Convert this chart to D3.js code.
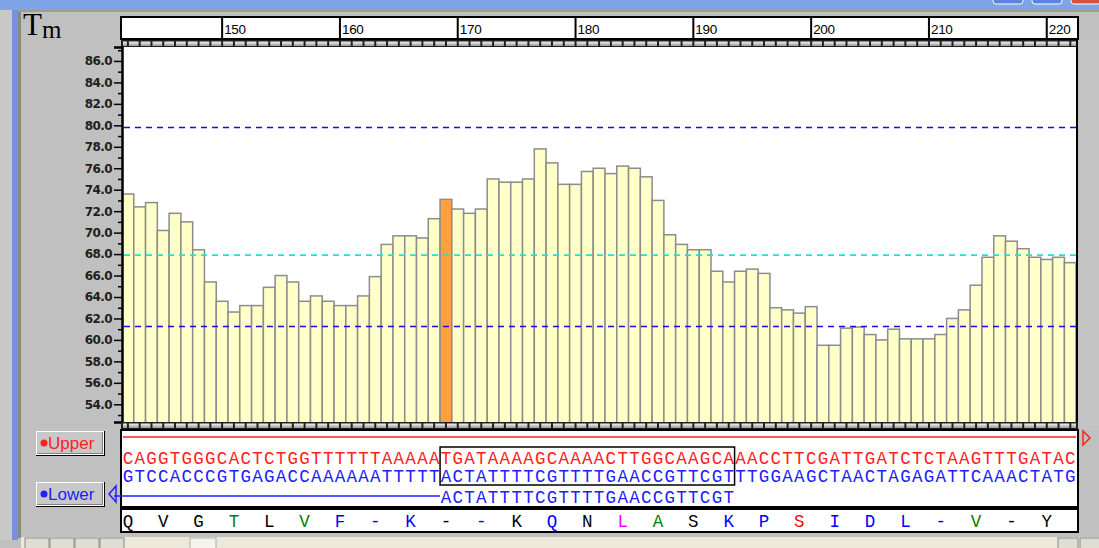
<!DOCTYPE html>
<html>
<head>
<meta charset="utf-8">
<script src="https://cdn.jsdelivr.net/npm/d3@7"></script>
<style>
  body { margin: 0; background: #c0c0c0; }
  svg { display: block; }
</style>
</head>
<body>
<svg width="1099" height="548"></svg>
<script>
// Data
const startPos = 142;
const tmValues = [73.6, 72.4, 72.8, 70.2, 71.8, 71.0, 68.4, 65.4, 63.6, 62.6,
                  63.2, 63.2, 64.9, 66.0, 65.4, 63.6, 64.1, 63.6, 63.2, 63.2,
                  64.1, 65.9, 68.9, 69.7, 69.7, 69.5, 71.3, 73.1, 72.2, 71.8,
                  72.2, 75.0, 74.7, 74.7, 75.0, 77.8, 76.5, 74.5, 74.5, 75.7,
                  76.0, 75.5, 76.2, 76.0, 75.2, 73.0, 69.8, 68.9, 68.4, 68.4,
                  66.4, 65.4, 66.4, 66.6, 66.2, 63.0, 62.8, 62.5, 63.1, 59.5,
                  59.5, 61.1, 61.2, 60.5, 60.0, 61.0, 60.1, 60.1, 60.1, 60.5,
                  62.0, 62.8, 65.1, 67.7, 69.7, 69.2, 68.5, 67.7, 67.5, 67.7,
                  67.2, 67.0];
const highlightPos = 169;
const xTicks = [150, 160, 170, 180, 190, 200, 210, 220];
const yTicks = d3.range(54, 87, 2);
const yMinorTicks = d3.range(53, 88, 2);
const refLines = [
  { value: 79.8, color: "#1010e0" },
  { value: 67.9, color: "#20e0e0" },
  { value: 61.25, color: "#1010e0" }
];
const upperSeq = "CAGGTGGGCACTCTGGTTTTTTAAAAATGATAAAAGCAAAACTTGGCAAGCAAACCTTCGATTGATCTCTAAGTTTGATAC";
const lowerSeq = "GTCCACCCGTGAGACCAAAAAATTTTTACTATTTTCGTTTTGAACCGTTCGTTTGGAAGCTAACTAGAGATTCAAACTATG";
const primerSeq = "ACTATTTTCGTTTTGAACCGTTCGT";
const primerStart = 169;
const boxStart = 169, boxEnd = 193;
const aminoAcids = ["Q","V","G","T","L","V","F","-","K","-","-","K","Q","N","L","A","S","K","P","S","I","D","L","-","V","-","Y"];
const aminoColors = ["k","k","k","g","k","g","b","b","b","k","b","k","b","k","m","g","k","b","b","r","b","b","b","b","g","k","k"];
const colorMap = { k: "#000000", g: "#008000", b: "#0000ff", m: "#ff00ff", r: "#ff0000" };

var svg = d3.select("svg");

// Scales
var x = d3.scaleLinear().domain([141.5, 222.5]).range([122, 1076.2]);
var y = d3.scaleLinear().domain([52.35, 87.3]).range([422, 47]);

var plotLeft = 122, plotRight = 1077, plotTop = 47, plotBottom = 422;

// Window chrome
svg.append("rect").attr("x", 0).attr("y", 0).attr("width", 1099).attr("height", 10).attr("fill", "#7ea3e6");
svg.append("rect").attr("x", 0).attr("y", 10).attr("width", 1099).attr("height", 2).attr("fill", "#a09c90");
svg.append("rect").attr("x", 12).attr("y", 10).attr("width", 6).attr("height", 530).attr("fill", "#7b8fe0");
svg.append("rect").attr("x", 18).attr("y", 12).attr("width", 3).attr("height", 526).attr("fill", "#8a8a80");
svg.append("rect").attr("x", 0).attr("y", 10).attr("width", 12).attr("height", 530).attr("fill", "#c8c8c8");
[[993, "#5b84e0"], [1032, "#5b84e0"], [1071, "#d85040"]].forEach(function (b) {
  svg.append("rect").attr("x", b[0]).attr("y", -8).attr("width", 30).attr("height", 12)
    .attr("rx", 3).attr("fill", b[1]).attr("stroke", "#ffffff");
});

var defs = svg.append("defs");
var grad = defs.append("linearGradient").attr("id", "cellGrad").attr("x1", 0).attr("y1", 0).attr("x2", 0).attr("y2", 1);
grad.append("stop").attr("offset", "0%").attr("stop-color", "#f4f4f4");
grad.append("stop").attr("offset", "100%").attr("stop-color", "#9a9a9a");
defs.append("clipPath").attr("id", "plotClip").append("rect")
  .attr("x", plotLeft).attr("y", plotTop).attr("width", plotRight - plotLeft).attr("height", plotBottom - plotTop);

// Tm label
var tm = svg.append("text").attr("x", 23).attr("y", 35).attr("font-family", "Liberation Serif").attr("fill", "#000");
tm.append("tspan").attr("font-size", "31px").text("T");
tm.append("tspan").attr("font-size", "25px").attr("dy", 3).text("m");

// Top ruler
svg.append("rect").attr("x", 121).attr("y", 17).attr("width", 957).attr("height", 22)
  .attr("fill", "#fff").attr("stroke", "#000").attr("stroke-width", 2);
xTicks.forEach(function (t) {
  svg.append("line").attr("x1", x(t)).attr("x2", x(t)).attr("y1", 17).attr("y2", 47)
    .attr("stroke", "#000").attr("stroke-width", 2);
  svg.append("text").attr("x", x(t) + 2).attr("y", 34).attr("font-family", "Liberation Sans")
    .attr("font-size", "13.5px").attr("fill", "#000").attr("letter-spacing", "-0.3px").text(t);
});

// ruler cells (top and bottom)
function cellRow(y0) {
  svg.append("rect").attr("x", 121).attr("y", y0).attr("width", 957).attr("height", 7).attr("fill", "#202020");
  svg.append("g").selectAll("rect")
    .data(d3.range(141, 223))
    .enter().append("rect")
    .attr("x", function (d) { return Math.max(x(d) + 1, 123); })
    .attr("y", y0 + 1.5)
    .attr("width", function (d) { return Math.min(x(d + 1) - 1, 1076) - Math.max(x(d) + 1, 123); })
    .attr("height", 4.5)
    .attr("fill", "url(#cellGrad)");
}
cellRow(40);

// Plot background
svg.append("rect").attr("x", plotLeft).attr("y", plotTop).attr("width", plotRight - plotLeft).attr("height", plotBottom - plotTop)
  .attr("fill", "#fff");

// Bars
svg.append("g").attr("clip-path", "url(#plotClip)").selectAll(".bar")
  .data(tmValues)
  .enter().append("rect")
  .attr("class", "bar")
  .attr("x", function (d, i) { return x(startPos + i - 0.5); })
  .attr("y", function (d) { return y(d); })
  .attr("width", x(1) - x(0))
  .attr("height", function (d) { return plotBottom + 2 - y(d); })
  .attr("fill", function (d, i) { return startPos + i === highlightPos ? "#ffa040" : "#ffffc8"; })
  .attr("stroke", "#8c8c8c")
  .attr("stroke-width", 1.5);

// Reference lines
svg.append("g").selectAll("line")
  .data(refLines)
  .enter().append("line")
  .attr("x1", plotLeft + 2).attr("x2", plotRight - 1)
  .attr("y1", function (d) { return y(d.value); })
  .attr("y2", function (d) { return y(d.value); })
  .attr("stroke", function (d) { return d.color; })
  .attr("stroke-width", 1.6)
  .attr("stroke-dasharray", "6,5");

// Y axis
var yAxis = svg.append("g").attr("transform", "translate(" + plotLeft + ",0)")
  .call(d3.axisLeft(y).tickValues(yTicks).tickSize(8).tickPadding(2).tickFormat(d3.format(".1f")));
yAxis.select(".domain").attr("stroke", "#000").attr("stroke-width", 2.5);
yAxis.selectAll(".tick line").attr("stroke", "#000").attr("stroke-width", 1.5);
yAxis.selectAll(".tick text").attr("font-family", "DejaVu Sans").attr("font-size", "12px")
  .attr("font-weight", "bold").attr("fill", "#202020").attr("letter-spacing", "-0.6px");
svg.append("g").attr("transform", "translate(" + plotLeft + ",0)")
  .call(d3.axisLeft(y).tickValues(yMinorTicks).tickSize(4).tickFormat(""))
  .call(function (g) { g.select(".domain").remove(); g.selectAll(".tick line").attr("stroke", "#000").attr("stroke-width", 1.5); });

// right border of plot
svg.append("line").attr("x1", plotRight).attr("x2", plotRight).attr("y1", 40).attr("y2", 430)
  .attr("stroke", "#000").attr("stroke-width", 2);
svg.append("rect").attr("x", 1079).attr("y", 40).attr("width", 20).attr("height", 390).attr("fill", "#c4c4c4");

cellRow(422);

// Sequence box
svg.append("rect").attr("x", 121).attr("y", 430).attr("width", 957).attr("height", 77)
  .attr("fill", "#fff").attr("stroke", "#000").attr("stroke-width", 2);
svg.append("line").attr("x1", 123).attr("x2", 1076).attr("y1", 437).attr("y2", 437)
  .attr("stroke", "#ff2020").attr("stroke-width", 1.5);
svg.append("line").attr("x1", 114).attr("x2", x(primerStart - 0.5)).attr("y1", 496).attr("y2", 496)
  .attr("stroke", "#2020ff").attr("stroke-width", 1.5);

function seqRow(seq, pos0, baseline, color) {
  svg.append("g").selectAll("text")
    .data(seq.split(""))
    .enter().append("text")
    .attr("x", function (d, i) { return x(pos0 + i); })
    .attr("y", baseline)
    .attr("text-anchor", "middle")
    .attr("font-family", "Liberation Mono")
    .attr("font-size", "17.5px")
    .attr("fill", color)
    .text(function (d) { return d; });
}
seqRow(upperSeq, startPos, 463.5, "#ff2020");
seqRow(lowerSeq, startPos, 481.5, "#2020ff");
seqRow(primerSeq, primerStart, 502.5, "#2020ff");

// primer box
svg.append("rect").attr("x", x(boxStart - 0.5)).attr("y", 447)
  .attr("width", x(boxEnd + 0.5) - x(boxStart - 0.5)).attr("height", 38)
  .attr("fill", "none").attr("stroke", "#000").attr("stroke-width", 1.5);

// triangles
svg.append("path").attr("d", "M1083,431 L1090,438 L1083,445 Z").attr("fill", "none").attr("stroke", "#ff2020").attr("stroke-width", 1.5);
svg.append("path").attr("d", "M116,486 L109,494 L116,502 Z").attr("fill", "none").attr("stroke", "#2020ff").attr("stroke-width", 1.5);

// Upper / Lower buttons
function button(y0, label, color) {
  svg.append("rect").attr("x", 36).attr("y", y0).attr("width", 69).attr("height", 25).attr("fill", "#000");
  svg.append("rect").attr("x", 36).attr("y", y0).attr("width", 68).attr("height", 24).attr("fill", "#fff");
  svg.append("rect").attr("x", 37).attr("y", y0 + 1).attr("width", 66).attr("height", 22).attr("fill", "#808080");
  svg.append("rect").attr("x", 37).attr("y", y0 + 1).attr("width", 65).attr("height", 21).attr("fill", "#c8c8c8");
  svg.append("circle").attr("cx", 44).attr("cy", y0 + 12).attr("r", 3.5).attr("fill", color);
  svg.append("text").attr("x", 48).attr("y", y0 + 17.5).attr("font-family", "Liberation Sans")
    .attr("font-size", "17px").attr("fill", color).text(label);
}
button(431, "Upper", "#ff2020");
button(482, "Lower", "#2020ff");

// Amino acid row
svg.append("rect").attr("x", 121).attr("y", 509).attr("width", 957).attr("height", 23)
  .attr("fill", "#fff").attr("stroke", "#000").attr("stroke-width", 2);
svg.append("g").selectAll("text")
  .data(aminoAcids)
  .enter().append("text")
  .attr("x", function (d, i) { return x(startPos + i * 3); })
  .attr("y", 527)
  .attr("text-anchor", "middle")
  .attr("font-family", "Liberation Mono")
  .attr("font-size", "17.5px")
  .attr("fill", function (d, i) { return colorMap[aminoColors[i]]; })
  .text(function (d) { return d; });

// Bottom scrollbar
svg.append("rect").attr("x", 21).attr("y", 537).attr("width", 1078).attr("height", 11).attr("fill", "#ece9d8");
[25, 50, 75, 100].forEach(function (bx) {
  svg.append("rect").attr("x", bx).attr("y", 538).attr("width", 24).attr("height", 12)
    .attr("fill", "#e0ded4").attr("stroke", "#8a8a80");
});
svg.append("rect").attr("x", 190).attr("y", 538).attr("width", 26).attr("height", 12)
  .attr("fill", "#f4f3ee").attr("stroke", "#b0b0a8");
[1058, 1080].forEach(function (bx) {
  svg.append("rect").attr("x", bx).attr("y", 538).attr("width", 20).attr("height", 12)
    .attr("fill", "#e0ded4").attr("stroke", "#8a8a80");
});
</script>
</body>
</html>
